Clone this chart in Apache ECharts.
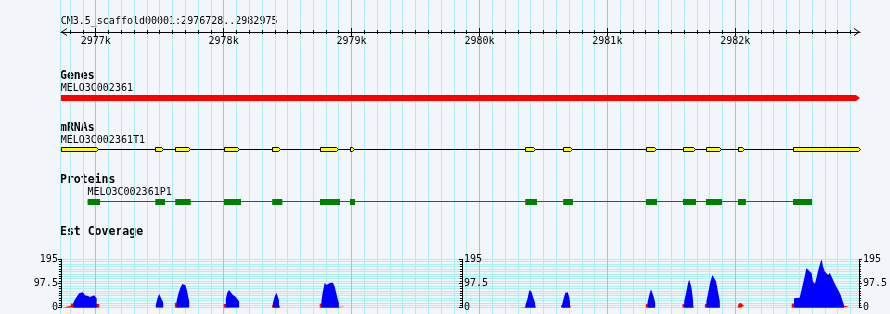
<!DOCTYPE html>
<html><head><meta charset="utf-8">
<script src="https://cdn.jsdelivr.net/npm/echarts@6/dist/echarts.min.js"></script>
<style>html,body{margin:0;padding:0;background:#f2f5fa;}#c{width:890px;height:314px;}</style>
</head><body><div id="c"></div><script>
// ---------------- data ----------------
const seqId = 'CM3.5_scaffold00001';
const viewStart = 2976728;
const viewEnd = 2982975;
const rulerMajorTicks = [2977000, 2978000, 2979000, 2980000, 2981000, 2982000];

const geneName = 'MELO3C002361';
const geneSpan = [2976728, 2982975];

const mrnaName = 'MELO3C002361T1';
const mrnaSpan = [2976728, 2982975];
const exonStarts = [2976728, 2977466, 2977622, 2978003, 2978380, 2978756, 2978988, 2980358, 2980655, 2981304, 2981593, 2981773, 2982023, 2982453];
const exonEnds   = [2977016, 2977529, 2977735, 2978120, 2978443, 2978897, 2979022, 2980437, 2980721, 2981378, 2981685, 2981886, 2982070, 2982975];

const proteinName = 'MELO3C002361P1';
const proteinSpan = [2976937, 2982600];
const cdsStarts = [2976937, 2977466, 2977622, 2978003, 2978380, 2978753, 2978988, 2980358, 2980655, 2981302, 2981591, 2981771, 2982021, 2982451];
const cdsEnds   = [2977034, 2977542, 2977743, 2978136, 2978459, 2978910, 2979027, 2980450, 2980731, 2981388, 2981693, 2981896, 2982083, 2982600];

const coverageMax = 195;
const blueCovPos = [
 2976825,2976825,2976838,2976854,2976870,2976885,2976901,2976916,2976928,2976940,2976956,2976971,2976987,2976999,2977008,2977008,
 2977471,2977471,2977483,2977497,2977511,2977529,2977529,
 2977633,2977633,2977647,2977663,2977679,2977690,2977702,2977714,2977726,2977732,2977732,
 2978019,2978019,2978030,2978044,2978058,2978073,2978093,2978109,2978123,2978123,
 2978388,2978388,2978402,2978415,2978425,2978435,2978435,
 2978767,2978767,2978777,2978793,2978806,2978818,2978837,2978857,2978871,2978884,2978897,2978904,2978904,
 2980364,2980364,2980380,2980395,2980401,2980411,2980426,2980440,2980440,
 2980651,2980651,2980665,2980677,2980682,2980688,2980696,2980708,2980713,2980713,
 2981320,2981320,2981333,2981347,2981357,2981368,2981380,2981380,
 2981607,2981607,2981623,2981636,2981646,2981654,2981664,2981672,2981677,2981677,
 2981781,2981781,2981795,2981810,2981828,2981841,2981857,2981873,2981886,2981886,
 2982467,2982467,2982480,2982511,2982532,2982553,2982563,2982579,2982592,2982605,2982615,2982631,2982641,2982657,2982672,2982683,2982694,2982709,2982719,2982735,2982746,2982761,2982779,2982797,2982813,2982832,2982844,2982858,2982858
];
const blueCovVal = [
 0,20,33,45,58,65,62,50,45,47,43,47,50,48,38,0,
 0,12,35,55,40,20,0,
 0,25,55,80,95,98,90,70,40,25,0,
 0,35,60,71,65,52,45,35,25,0,
 0,20,45,60,52,30,0,
 0,25,60,101,91,98,101,101,85,58,31,20,0,
 0,10,35,70,78,65,40,20,0,
 0,12,40,60,67,58,62,40,25,0,
 0,20,50,74,68,45,20,0,
 0,25,60,95,114,108,80,50,25,0,
 0,25,60,100,132,128,105,60,25,0,
 0,38,40,40,85,132,159,152,145,139,105,98,118,152,179,195,165,145,139,132,141,125,105,85,71,51,31,11,0
];
const redCovPos = [
 2976744,2976744,2976764,2976764,2976807,2976807,2977006,2977028,2977028,
 2977458,2977458,2977475,2977475,
 2977620,2977620,2977636,2977636,2977729,2977743,2977743,
 2978003,2978003,2978023,2978023,2978120,2978134,2978134,
 2978381,2978381,2978390,2978433,2978446,2978446,
 2978754,2978754,2978769,2978902,2978949,2978949,2978988,2978988,2979014,2979014,
 2980311,2980311,2980364,2980438,2980448,2980448,
 2980616,2980616,2980630,2980630,2980643,2980643,2980655,2980712,2980721,2980721,
 2981307,2981307,2981322,2981378,2981378,2981393,2981393,2981404,2981404,2981466,2981466,2981474,2981474,2981500,2981500,2981508,2981508,
 2981594,2981594,2981608,2981675,2981685,2981685,
 2981769,2981769,2981783,2981884,2981884,
 2982024,2982024,2982033,2982049,2982064,2982076,2982076,
 2982449,2982449,2982471,2982855,2982897,2982897,2982949,2982949,2982975,2982975
];
const redCovVal = [
 0,3,3,8,8,17,15,15,0,
 0,7,7,0,
 0,20,20,10,7,7,0,
 0,15,15,10,7,7,0,
 0,12,12,15,15,0,
 0,17,17,4,4,0,0,4,4,0,
 0,3,3,15,15,0,
 0,3,3,0,0,10,10,15,15,0,
 0,15,15,10,0,0,3,3,0,0,3,3,0,0,3,3,0,
 0,15,15,12,12,0,
 0,15,15,10,0,
 0,8,15,20,15,8,0,
 0,17,17,7,7,0,0,7,7,0
];

// ---------------- styling / layout ----------------
const FONT = "'DejaVu Sans Mono', monospace";
const BG = '#f2f5fa';
const MINOR = '#afeeee';
const MAJOR = '#94c8e4';
const L = 60.9, R = 30;
const plotW = 890 - L - R;
const pxPerBp = plotW / (viewEnd - viewStart);
const bgMin = Math.floor(viewStart / 100) * 100;
const bgMax = Math.ceil(viewEnd / 100) * 100;
const bgLeft = L - (viewStart - bgMin) * pxPerBp;
const bgRight = R - (bgMax - viewEnd) * pxPerBp;

const gridColors = [];
for (let k = 0; k < 10; k++) gridColors.push((bgMin + 100 * (k + 1)) % 1000 === 0 ? MAJOR : MINOR);
const minorTicks = [];
for (let v = bgMin + 100; v < viewEnd; v += 100) minorTicks.push(v);

const chev = 'path://M0 6 L4 0 L8 6 L7 6 L4 1.6 L1 6 Z';

// split a coverage profile into separate pieces wherever it sits at zero (break, no area)
function covData(pos, val) {
  const out = [];
  for (let i = 0; i < pos.length; i++) {
    if (i > 0 && val[i] === 0 && val[i - 1] === 0 && pos[i] !== pos[i - 1]) out.push([pos[i - 1], '-']);
    out.push([pos[i], val[i]]);
  }
  return out;
}

const hiddenX = (g) => ({gridIndex: g, type: 'value', min: viewStart, max: viewEnd, show: false});
const hiddenY = (g) => ({gridIndex: g, type: 'value', min: 0, max: 1, show: false});
const rulerAxis = (pos, ticks, len, extra) => Object.assign({
  gridIndex: 2, type: 'value', min: viewStart, max: viewEnd, position: pos,
  axisLine: {show: false, onZero: false},
  axisTick: {show: true, customValues: ticks, length: len, lineStyle: {color: '#000', width: 1}},
  axisLabel: {show: false}, splitLine: {show: false}
}, extra || {});

function xOf(api, v) { return api.coord([v, 0])[0]; }
function label(x, y, text) {
  return {type: 'text', x: x, y: y, style: {text: text, fill: '#000', fontFamily: FONT, fontSize: 10, align: 'left', verticalAlign: 'middle'}};
}

const covAxisBase = {
  gridIndex: 6, type: 'value', min: 0, max: coverageMax, interval: coverageMax / 2,
  axisLine: {show: true, onZero: false, lineStyle: {color: '#000', width: 1}},
  axisTick: {show: true, length: 3, lineStyle: {color: '#000'}},
  minorTick: {show: true, splitNumber: 10, length: 2, lineStyle: {color: '#000'}},
  axisLabel: {color: '#000', fontFamily: FONT, fontSize: 10, margin: 3},
  splitLine: {show: false}, minorSplitLine: {show: false}
};

const option = {
  backgroundColor: BG,
  animation: false,
  grid: [
    {left: bgLeft, right: bgRight, top: 0, bottom: 0},
    {left: 60, right: R, top: 0, bottom: 0},
    {left: L, right: R, top: 32, height: 0},
    {left: L, right: R, top: 95, height: 6},
    {left: L, right: R, top: 147, height: 5},
    {left: L, right: R, top: 199, height: 6},
    {left: L, right: R, top: 259.3, height: 48.4}
  ],
  xAxis: [
    {gridIndex: 0, type: 'value', min: bgMin, max: bgMax, interval: 100,
     axisLine: {show: false}, axisTick: {show: false}, axisLabel: {show: false},
     splitLine: {show: true, showMinLine: false, showMaxLine: false, lineStyle: {color: gridColors, width: 1}}},
    {gridIndex: 1, type: 'value', min: 0, max: 1, show: false},
    rulerAxis('bottom', minorTicks, 2, {axisLine: {show: true, onZero: false, lineStyle: {color: '#000', width: 1},
      symbol: [chev, chev], symbolSize: [8, 6], symbolOffset: [3, -3]}}),
    rulerAxis('top', minorTicks, 2),
    rulerAxis('bottom', rulerMajorTicks, 4, {axisLabel: {show: true, customValues: rulerMajorTicks, margin: 4,
      color: '#000', fontFamily: FONT, fontSize: 10, formatter: (v) => (v / 1000) + 'k'}}),
    rulerAxis('top', rulerMajorTicks, 4),
    hiddenX(3), hiddenX(4), hiddenX(5), hiddenX(6)
  ],
  yAxis: [
    {gridIndex: 0, type: 'value', min: 0, max: 1, show: false},
    {gridIndex: 1, type: 'value', min: 0, max: 1,
     axisLine: {show: true, onZero: false, lineStyle: {color: MINOR, width: 1}},
     axisTick: {show: false}, axisLabel: {show: false}, splitLine: {show: false}},
    hiddenY(2), hiddenY(3), hiddenY(4), hiddenY(5),
    Object.assign({}, covAxisBase, {position: 'left',
      splitLine: {show: true, lineStyle: {color: MINOR, width: 1}},
      minorSplitLine: {show: true, lineStyle: {color: MINOR, width: 1}}}),
    Object.assign({}, covAxisBase, {position: 'left', offset: -401,
      axisLabel: Object.assign({}, covAxisBase.axisLabel, {inside: true, margin: 2})}),
    Object.assign({}, covAxisBase, {position: 'right',
      axisLabel: Object.assign({}, covAxisBase.axisLabel, {margin: 4})})
  ],
  graphic: [
    {type: 'text', x: 60.7, y: 21, style: {text: seqId + ':' + viewStart + '..' + viewEnd, fill: '#000', fontFamily: FONT, fontSize: 10, verticalAlign: 'middle'}},
    {type: 'text', x: 60, y: 76, style: {text: 'Genes', fill: '#000', fontFamily: FONT, fontSize: 11.5, fontWeight: 'bold', verticalAlign: 'middle'}},
    {type: 'text', x: 60, y: 127.7, style: {text: 'mRNAs', fill: '#000', fontFamily: FONT, fontSize: 11.5, fontWeight: 'bold', verticalAlign: 'middle'}},
    {type: 'text', x: 60, y: 180.5, style: {text: 'Proteins', fill: '#000', fontFamily: FONT, fontSize: 11.5, fontWeight: 'bold', verticalAlign: 'middle'}},
    {type: 'text', x: 60, y: 231.8, style: {text: 'Est Coverage', fill: '#000', fontFamily: FONT, fontSize: 11.5, fontWeight: 'bold', verticalAlign: 'middle'}}
  ],
  series: [
    { // gene
      type: 'custom', xAxisIndex: 6, yAxisIndex: 3, encode: {x: [0, 1]}, silent: true,
      data: [geneSpan],
      renderItem: (params, api) => {
        const cs = params.coordSys;
        const x0 = xOf(api, api.value(0)), x1 = xOf(api, api.value(1));
        const t = cs.y, b = cs.y + cs.height, m = (t + b) / 2;
        return {type: 'group', children: [
          {type: 'polygon', shape: {points: [[x0, t], [x1 - 4, t], [x1, m], [x1 - 4, b], [x0, b]]}, style: {fill: '#ff0000'}},
          label(x0 - 0.2, t - 6.6, geneName)
        ]};
      }
    },
    { // transcript backbone
      type: 'custom', xAxisIndex: 7, yAxisIndex: 4, encode: {x: [0, 1]}, silent: true,
      data: [mrnaSpan],
      renderItem: (params, api) => {
        const cs = params.coordSys;
        const x0 = xOf(api, api.value(0)), x1 = xOf(api, api.value(1));
        const y = cs.y + 2.5;
        return {type: 'group', children: [
          {type: 'line', shape: {x1: x0, y1: y, x2: x1, y2: y}, style: {stroke: '#000', lineWidth: 1}},
          label(x0 - 0.2, cs.y - 6.5, mrnaName)
        ]};
      }
    },
    { // exons
      type: 'custom', xAxisIndex: 7, yAxisIndex: 4, encode: {x: [0, 1]}, silent: true, z: 3,
      data: exonStarts.map((s, i) => [s, exonEnds[i]]),
      renderItem: (params, api) => {
        const cs = params.coordSys;
        const x0 = Math.round(xOf(api, api.value(0))) + 0.5;
        const x1 = Math.round(xOf(api, api.value(1))) + 0.5;
        const t = cs.y + 0.5, b = cs.y + cs.height - 0.5, m = (t + b) / 2;
        return {type: 'polygon', shape: {points: [[x0, t], [x1 - 2, t], [x1, m], [x1 - 2, b], [x0, b]]},
          style: {fill: '#ffff00', stroke: '#000', lineWidth: 1}};
      }
    },
    { // protein backbone
      type: 'custom', xAxisIndex: 8, yAxisIndex: 5, encode: {x: [0, 1]}, silent: true,
      data: [proteinSpan],
      renderItem: (params, api) => {
        const cs = params.coordSys;
        const x0 = xOf(api, api.value(0)), x1 = xOf(api, api.value(1));
        const y = cs.y + 2.5;
        return {type: 'group', children: [
          {type: 'line', shape: {x1: x0, y1: y, x2: x1, y2: y}, style: {stroke: '#008000', lineWidth: 1}},
          label(x0 - 0.2, cs.y - 6.8, proteinName)
        ]};
      }
    },
    { // CDS blocks
      type: 'custom', xAxisIndex: 8, yAxisIndex: 5, encode: {x: [0, 1]}, silent: true, z: 3,
      data: cdsStarts.map((s, i) => [s, cdsEnds[i]]),
      renderItem: (params, api) => {
        const cs = params.coordSys;
        const x0 = xOf(api, api.value(0)), x1 = xOf(api, api.value(1));
        return {type: 'rect', shape: {x: x0, y: cs.y, width: x1 - x0, height: cs.height}, style: {fill: '#008000'}};
      }
    },
    {
      type: 'line', xAxisIndex: 9, yAxisIndex: 6, silent: true, symbol: 'none', showSymbol: false, z: 3,
      connectNulls: false,
      data: covData(redCovPos, redCovVal),
      lineStyle: {width: 0, opacity: 0}, areaStyle: {color: '#ff0000', opacity: 1}
    },
    {
      type: 'line', xAxisIndex: 9, yAxisIndex: 6, silent: true, symbol: 'none', showSymbol: false, z: 4,
      connectNulls: false,
      data: covData(blueCovPos, blueCovVal),
      lineStyle: {width: 0, opacity: 0}, areaStyle: {color: '#0000ff', opacity: 1}
    }
  ]
};

const chart = echarts.init(document.getElementById('c'), null, {renderer: 'canvas'});
chart.setOption(option);
</script></body></html>
